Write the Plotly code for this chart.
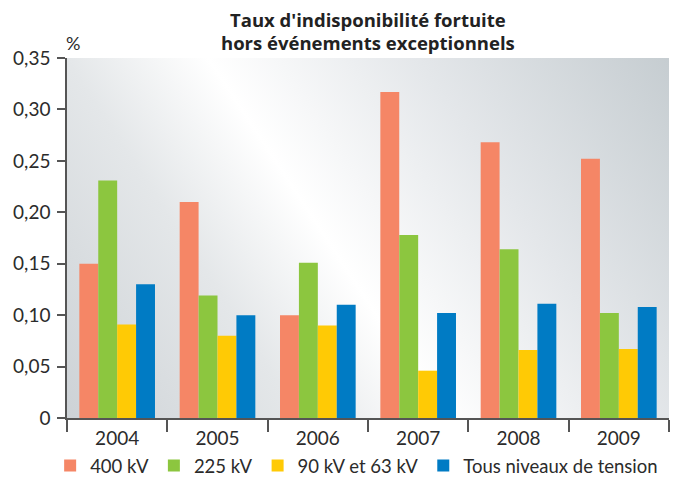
import base64
import plotly.graph_objects as go

years = ["2004", "2005", "2006", "2007", "2008", "2009"]
series_names = ["400 kV", "225 kV", "90 kV et 63 kV", "Tous niveaux de tension"]
v400 = [0.150, 0.210, 0.100, 0.317, 0.268, 0.252]
v225 = [0.231, 0.119, 0.151, 0.178, 0.164, 0.102]
v90 = [0.091, 0.080, 0.090, 0.046, 0.066, 0.067]
vall = [0.130, 0.100, 0.110, 0.102, 0.111, 0.108]
colors = ["#F58666", "#8CC63F", "#FFCA05", "#007BC4"]
ytickvals = [0, 0.05, 0.10, 0.15, 0.20, 0.25, 0.30, 0.35]
yticktext = ["0", "0,05", "0,10", "0,15", "0,20", "0,25", "0,30", "0,35"]
title_lines = ["Taux d'indisponibilité fortuite", "hors événements exceptionnels"]

svg = """<svg xmlns='http://www.w3.org/2000/svg' width='600' height='360' viewBox='0 0 600 360' preserveAspectRatio='none'>
<defs><linearGradient id='g' gradientUnits='userSpaceOnUse' x1='0' y1='360' x2='585' y2='-22'>
<stop offset='0' stop-color='#cdd2d6'/>
<stop offset='0.28' stop-color='#e4e7e9'/>
<stop offset='0.45' stop-color='#ffffff'/>
<stop offset='0.70' stop-color='#e4e7ea'/>
<stop offset='1' stop-color='#c6cdd1'/>
</linearGradient></defs>
<rect x='0' y='0' width='600' height='360' fill='url(#g)'/></svg>"""
bg_uri = "data:image/svg+xml;base64," + base64.b64encode(svg.encode()).decode()

fig = go.Figure()
for name, vals, col in zip(series_names, [v400, v225, v90, vall], colors):
    fig.add_trace(go.Bar(x=years, y=vals, name=name, marker=dict(color=col, line=dict(width=0))))

font_fam = "Lato, 'Open Sans', sans-serif"
title_font = dict(family="'Open Sans', sans-serif", size=18.5, color="#222")
fig.update_layout(
    width=673, height=477,
    margin=dict(l=67, r=4, t=58, b=59, autoexpand=False),
    barmode="group", bargap=0.246, bargroupgap=0,
    paper_bgcolor="white", plot_bgcolor="rgba(0,0,0,0)",
    font=dict(family=font_fam, size=19, color="#2b2b2b"),
    showlegend=True,
    legend=dict(orientation="h", x=-0.028, xanchor="left", y=-0.133, yref="paper", yanchor="middle",
                font=dict(size=18.5, color="#2b2b2b"), bgcolor="rgba(0,0,0,0)",
                traceorder="normal", itemclick=False),
    images=[dict(source=bg_uri, xref="paper", yref="paper", x=0, y=1, sizex=1, sizey=1,
                 xanchor="left", yanchor="top", sizing="stretch", layer="below")],
    annotations=[
        dict(text="<b>" + title_lines[0] + "</b>", xref="paper", yref="paper", x=0.5, y=1.1056,
             xanchor="center", yanchor="middle", showarrow=False, font=title_font),
        dict(text="<b>" + title_lines[1] + "</b>", xref="paper", yref="paper", x=0.5, y=1.0444,
             xanchor="center", yanchor="middle", showarrow=False, font=title_font),
        dict(text="%", xref="paper", yref="paper", x=0.01, y=1.042, xanchor="center",
             yanchor="middle", showarrow=False, font=dict(size=18, color="#2b2b2b")),
    ],
)
fig.update_xaxes(range=[-0.5, 5.5], showline=True, linecolor="#555", linewidth=1.5, ticks="outside",
                 tickson="boundaries", ticklen=12, tickcolor="#555", tickwidth=1.5, showgrid=False,
                 zeroline=False, tickfont=dict(size=19), ticklabelstandoff=2)
fig.update_yaxes(range=[0, 0.35], showline=True, linecolor="#555", linewidth=1.5, ticks="outside",
                 ticklen=8, tickcolor="#555", tickwidth=1.5, showgrid=False, zeroline=False,
                 tickvals=ytickvals, ticktext=yticktext, tickfont=dict(size=19), ticklabelstandoff=3)

fig.write_html("out.html", config={"displayModeBar": False},
               post_script="document.body.style.margin='0';")
